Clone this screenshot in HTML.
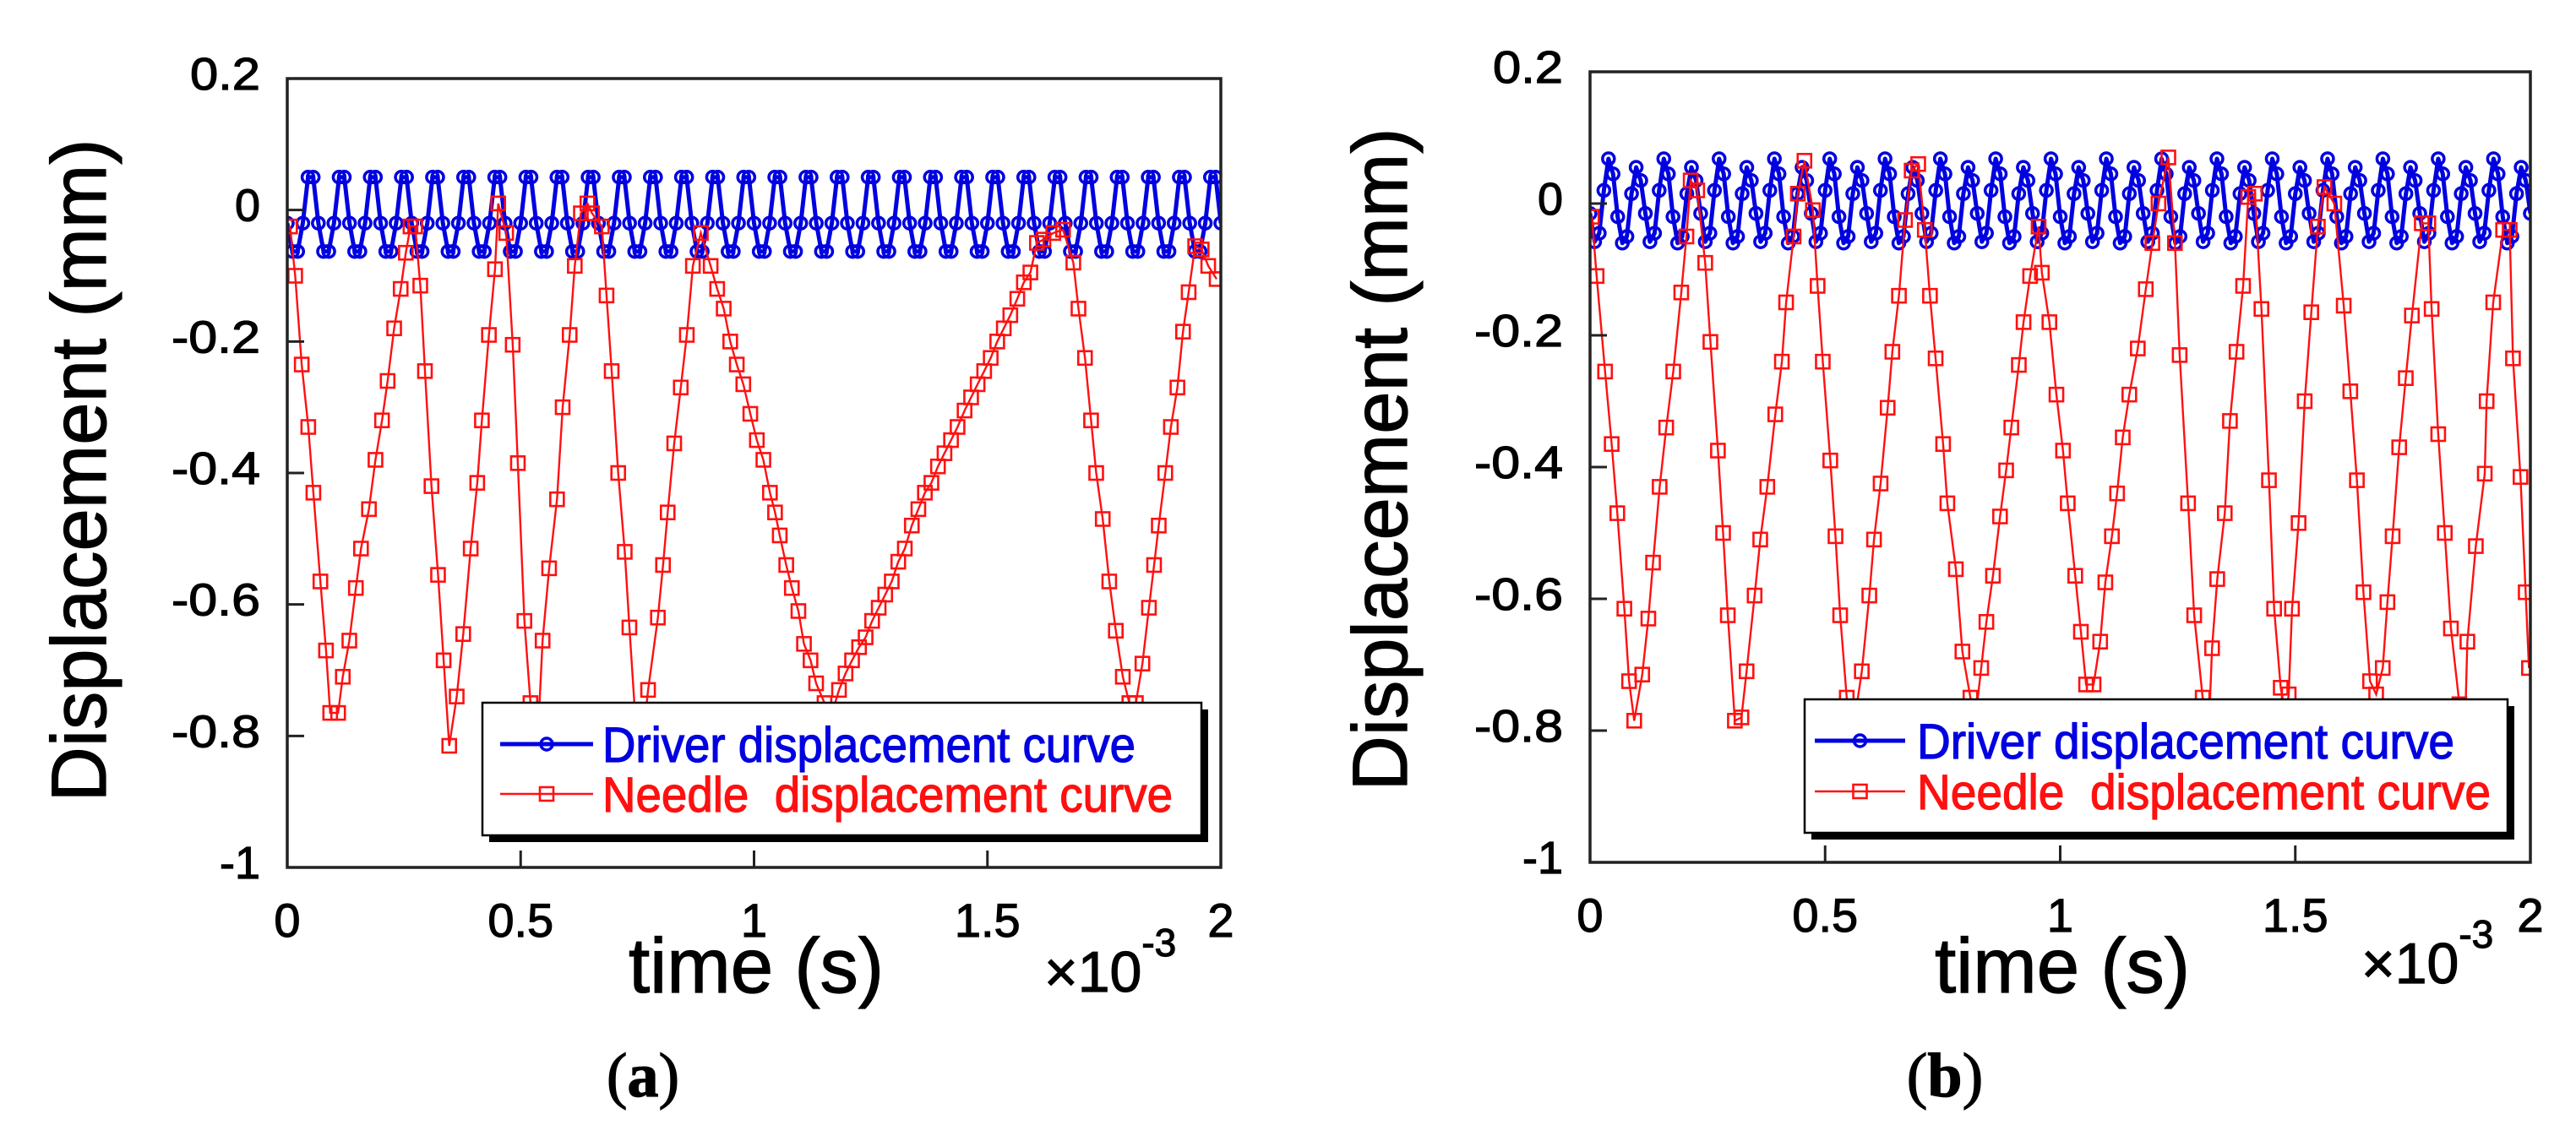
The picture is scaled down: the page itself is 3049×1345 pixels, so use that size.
<!DOCTYPE html>
<html><head><meta charset="utf-8"><style>
html,body{margin:0;padding:0;background:#fff;}
svg{display:block;font-family:"Liberation Sans",Arial,sans-serif;}
svg text{stroke:currentColor;stroke-width:1.2px;}
</style></head><body>
<svg id="fig" width="3049" height="1345" viewBox="0 0 3049 1345" xmlns="http://www.w3.org/2000/svg">
<defs>
<clipPath id="clipA"><rect x="340" y="93" width="1105" height="934"/></clipPath>
<clipPath id="clipB"><rect x="1882" y="85" width="1113" height="936"/></clipPath>
</defs>
</svg>
<script>
// ---- data (time in ms ×10^-3 s, displacement in mm) ----
const xTicks = [0, 0.5, 1, 1.5, 2];
const xTickLabels = ["0", "0.5", "1", "1.5", "2"];
const yTicks = [0.2, 0, -0.2, -0.4, -0.6, -0.8, -1];
const yTickLabels = ["0.2", "0", "-0.2", "-0.4", "-0.6", "-0.8", "-1"];

const driverA_t0 = 0, driverA_dt = 2/180;
const driverA_v = [
-0.02,-0.063,-0.063,-0.02,0.05,0.05, -0.02,-0.063,-0.063,-0.02,0.05,0.05, -0.02,-0.063,-0.063,-0.02,0.05,0.05,
-0.02,-0.063,-0.063,-0.02,0.05,0.05, -0.02,-0.063,-0.063,-0.02,0.05,0.05, -0.02,-0.063,-0.063,-0.02,0.05,0.05,
-0.02,-0.063,-0.063,-0.02,0.05,0.05, -0.02,-0.063,-0.063,-0.02,0.05,0.05, -0.02,-0.063,-0.063,-0.02,0.05,0.05,
-0.02,-0.063,-0.063,-0.02,0.05,0.05, -0.02,-0.063,-0.063,-0.02,0.05,0.05, -0.02,-0.063,-0.063,-0.02,0.05,0.05,
-0.02,-0.063,-0.063,-0.02,0.05,0.05, -0.02,-0.063,-0.063,-0.02,0.05,0.05, -0.02,-0.063,-0.063,-0.02,0.05,0.05,
-0.02,-0.063,-0.063,-0.02,0.05,0.05, -0.02,-0.063,-0.063,-0.02,0.05,0.05, -0.02,-0.063,-0.063,-0.02,0.05,0.05,
-0.02,-0.063,-0.063,-0.02,0.05,0.05, -0.02,-0.063,-0.063,-0.02,0.05,0.05, -0.02,-0.063,-0.063,-0.02,0.05,0.05,
-0.02,-0.063,-0.063,-0.02,0.05,0.05, -0.02,-0.063,-0.063,-0.02,0.05,0.05, -0.02,-0.063,-0.063,-0.02,0.05,0.05,
-0.02,-0.063,-0.063,-0.02,0.05,0.05, -0.02,-0.063,-0.063,-0.02,0.05,0.05, -0.02,-0.063,-0.063,-0.02,0.05,0.05,
-0.02,-0.063,-0.063,-0.02,0.05,0.05, -0.02,-0.063,-0.063,-0.02,0.05,0.05, -0.02,-0.063,-0.063,-0.02,0.05,0.05,
-0.02];

const needleA_t = [0.006,0.017,0.031,0.045,0.056,0.071,0.083,0.092,0.109,0.119,0.133,0.147,0.158,0.175,0.189,0.203,0.215,0.229,0.243,0.254,0.264,0.274,0.285,0.295,0.309,0.323,0.335,0.347,0.363,0.377,0.393,0.407,0.417,0.432,0.445,0.452,0.469,0.483,0.494,0.508,0.521,0.535,0.547,0.561,0.578,0.590,0.605,0.616,0.629,0.643,0.653,0.674,0.684,0.695,0.709,0.723,0.733,0.745,0.758,0.773,0.794,0.805,0.815,0.829,0.843,0.856,0.869,0.886,0.907,0.921,0.935,0.949,0.963,0.977,0.992,1.006,1.020,1.034,1.045,1.055,1.069,1.081,1.095,1.107,1.121,1.133,1.151,1.165,1.182,1.196,1.210,1.225,1.239,1.253,1.267,1.281,1.295,1.309,1.323,1.338,1.352,1.366,1.380,1.394,1.408,1.422,1.436,1.451,1.465,1.479,1.493,1.507,1.521,1.535,1.549,1.564,1.578,1.592,1.606,1.620,1.641,1.662,1.684,1.695,1.709,1.722,1.733,1.747,1.761,1.775,1.790,1.804,1.818,1.832,1.846,1.857,1.867,1.881,1.893,1.907,1.919,1.931,1.945,1.959,1.973,1.991];
const needleA_v = [-0.025,-0.10,-0.235,-0.33,-0.43,-0.565,-0.67,-0.765,-0.765,-0.71,-0.655,-0.575,-0.515,-0.455,-0.38,-0.32,-0.26,-0.18,-0.12,-0.065,-0.025,-0.025,-0.115,-0.245,-0.42,-0.555,-0.685,-0.815,-0.74,-0.645,-0.515,-0.415,-0.32,-0.19,-0.09,0.01,-0.035,-0.205,-0.385,-0.625,-0.75,-0.83,-0.655,-0.545,-0.44,-0.30,-0.19,-0.085,-0.005,0.01,-0.005,-0.025,-0.13,-0.245,-0.40,-0.52,-0.635,-0.765,-0.83,-0.73,-0.62,-0.54,-0.46,-0.355,-0.27,-0.19,-0.085,-0.035,-0.085,-0.12,-0.15,-0.20,-0.235,-0.265,-0.31,-0.35,-0.38,-0.43,-0.46,-0.495,-0.54,-0.575,-0.61,-0.66,-0.685,-0.72,-0.75,-0.77,-0.73,-0.705,-0.685,-0.665,-0.65,-0.625,-0.605,-0.585,-0.565,-0.535,-0.515,-0.48,-0.455,-0.43,-0.415,-0.39,-0.37,-0.35,-0.33,-0.305,-0.285,-0.265,-0.245,-0.225,-0.20,-0.18,-0.16,-0.135,-0.11,-0.095,-0.05,-0.045,-0.035,-0.03,-0.08,-0.15,-0.225,-0.32,-0.40,-0.47,-0.565,-0.64,-0.71,-0.75,-0.75,-0.69,-0.605,-0.54,-0.48,-0.40,-0.33,-0.27,-0.185,-0.125,-0.055,-0.06,-0.085,-0.105];

const driverB_t0 = 0, driverB_dt = 2/204;
const driverB_v = [
-0.015,-0.058,-0.045,0.02,0.068,0.045, -0.02,-0.06,-0.05,0.015,0.055,0.035,
-0.015,-0.058,-0.045,0.02,0.068,0.045, -0.02,-0.06,-0.05,0.015,0.055,0.035,
-0.015,-0.058,-0.045,0.02,0.068,0.045, -0.02,-0.06,-0.05,0.015,0.055,0.035,
-0.015,-0.058,-0.045,0.02,0.068,0.045, -0.02,-0.06,-0.05,0.015,0.055,0.035,
-0.015,-0.058,-0.045,0.02,0.068,0.045, -0.02,-0.06,-0.05,0.015,0.055,0.035,
-0.015,-0.058,-0.045,0.02,0.068,0.045, -0.02,-0.06,-0.05,0.015,0.055,0.035,
-0.015,-0.058,-0.045,0.02,0.068,0.045, -0.02,-0.06,-0.05,0.015,0.055,0.035,
-0.015,-0.058,-0.045,0.02,0.068,0.045, -0.02,-0.06,-0.05,0.015,0.055,0.035,
-0.015,-0.058,-0.045,0.02,0.068,0.045, -0.02,-0.06,-0.05,0.015,0.055,0.035,
-0.015,-0.058,-0.045,0.02,0.068,0.045, -0.02,-0.06,-0.05,0.015,0.055,0.035,
-0.015,-0.058,-0.045,0.02,0.068,0.045, -0.02,-0.06,-0.05,0.015,0.055,0.035,
-0.015,-0.058,-0.045,0.02,0.068,0.045, -0.02,-0.06,-0.05,0.015,0.055,0.035,
-0.015,-0.058,-0.045,0.02,0.068,0.045, -0.02,-0.06,-0.05,0.015,0.055,0.035,
-0.015,-0.058,-0.045,0.02,0.068,0.045, -0.02,-0.06,-0.05,0.015,0.055,0.035,
-0.015,-0.058,-0.045,0.02,0.068,0.045, -0.02,-0.06,-0.05,0.015,0.055,0.035,
-0.015,-0.058,-0.045,0.02,0.068,0.045, -0.02,-0.06,-0.05,0.015,0.055,0.035,
-0.015,-0.058,-0.045,0.02,0.068,0.045, -0.02,-0.06,-0.05,0.015,0.055,0.035,
-0.015];

const needleB_t = [0.004,0.014,0.032,0.046,0.058,0.073,0.083,0.094,0.111,0.124,0.134,0.148,0.162,0.177,0.194,0.205,0.214,0.228,0.245,0.256,0.272,0.283,0.293,0.308,0.322,0.333,0.350,0.362,0.377,0.394,0.408,0.417,0.433,0.442,0.456,0.474,0.484,0.495,0.511,0.522,0.532,0.546,0.555,0.578,0.594,0.604,0.618,0.633,0.643,0.657,0.670,0.684,0.698,0.712,0.723,0.735,0.751,0.760,0.778,0.792,0.809,0.820,0.832,0.843,0.857,0.872,0.885,0.896,0.912,0.922,0.936,0.954,0.961,0.977,0.992,1.006,1.016,1.032,1.044,1.055,1.071,1.085,1.096,1.110,1.121,1.133,1.147,1.165,1.182,1.196,1.209,1.230,1.244,1.254,1.272,1.285,1.303,1.315,1.323,1.334,1.350,1.361,1.375,1.389,1.400,1.414,1.428,1.444,1.455,1.469,1.480,1.486,1.493,1.507,1.520,1.534,1.548,1.562,1.583,1.603,1.617,1.631,1.645,1.659,1.672,1.686,1.696,1.707,1.721,1.735,1.748,1.769,1.783,1.790,1.804,1.818,1.831,1.849,1.860,1.866,1.884,1.903,1.907,1.921,1.942,1.956,1.963,1.979,1.990,1.997];
const needleB_v = [-0.02,-0.11,-0.255,-0.365,-0.47,-0.615,-0.725,-0.785,-0.715,-0.63,-0.545,-0.43,-0.34,-0.255,-0.135,-0.05,0.035,0.02,-0.09,-0.21,-0.375,-0.50,-0.625,-0.785,-0.78,-0.71,-0.595,-0.51,-0.43,-0.32,-0.24,-0.15,-0.05,0.015,0.065,-0.01,-0.125,-0.24,-0.39,-0.505,-0.625,-0.75,-0.82,-0.71,-0.595,-0.51,-0.425,-0.31,-0.225,-0.14,-0.025,0.05,0.06,-0.04,-0.14,-0.235,-0.365,-0.455,-0.555,-0.68,-0.75,-0.78,-0.705,-0.635,-0.565,-0.475,-0.405,-0.34,-0.245,-0.18,-0.11,-0.035,-0.105,-0.18,-0.29,-0.375,-0.455,-0.565,-0.65,-0.73,-0.73,-0.665,-0.575,-0.505,-0.44,-0.355,-0.29,-0.22,-0.13,-0.06,0,0.07,-0.06,-0.23,-0.455,-0.625,-0.75,-0.82,-0.675,-0.57,-0.47,-0.33,-0.225,-0.125,0.01,0.015,-0.16,-0.42,-0.615,-0.735,-0.78,-0.745,-0.615,-0.485,-0.30,-0.165,-0.035,0.025,0,-0.155,-0.285,-0.42,-0.59,-0.725,-0.745,-0.705,-0.605,-0.505,-0.37,-0.265,-0.17,-0.03,-0.03,-0.16,-0.35,-0.50,-0.645,-0.76,-0.82,-0.665,-0.52,-0.41,-0.30,-0.15,-0.04,-0.04,-0.235,-0.415,-0.59,-0.705];

const NS = "http://www.w3.org/2000/svg";
const svg = document.getElementById("fig");
function mk(tag, attrs, parent) {
  const e = document.createElementNS(NS, tag);
  for (const k in attrs) e.setAttribute(k, attrs[k]);
  (parent || svg).appendChild(e);
  return e;
}
const yTickLabelWidths = {"0.2":83,"0":30,"-0.2":105,"-0.4":105,"-0.6":105,"-0.8":105,"-1":48};
const BLUE = "#0000e0", RED = "#ff1010";

function drawPlot(P) {
  const g = mk("g", {});
  
  
  const sx = t => P.x0 + (t - 0) / (2 - 0) * (P.x1 - P.x0);
  const sy = v => P.y0 + (0.2 - v) / (0.2 - (-1)) * (P.y1 - P.y0);

  const dg = mk("g", {"clip-path": "url(#" + P.clip + ")"}, g);
  
  
  const dpts = P.dv.map((v, i) => sx(P.dt0 + i * P.ddt).toFixed(1) + "," + sy(v).toFixed(1)).join(" ");
  const dl = mk("polyline", {points: dpts, fill: "none", stroke: BLUE, "stroke-width": 5, "stroke-linejoin": "round"}, dg);
  
  
  P.dv.forEach((v, i) => {
    const c = mk("circle", {cx: sx(P.dt0 + i * P.ddt), cy: sy(v), r: 7, fill: "none", stroke: BLUE, "stroke-width": 3.5}, dg);
    
    
  });

  const ng = mk("g", {"clip-path": "url(#" + P.clip + ")"}, g);
  
  
  const n = Math.min(P.nt.length, P.nv.length);
  const npts = [];
  for (let i = 0; i < n; i++) npts.push(sx(P.nt[i]).toFixed(1) + "," + sy(P.nv[i]).toFixed(1));
  const nl = mk("polyline", {points: npts.join(" "), fill: "none", stroke: RED, "stroke-width": 2.4}, ng);
  
  
  for (let i = 0; i < n; i++) {
    const r = mk("rect", {x: sx(P.nt[i]) - 8, y: sy(P.nv[i]) - 8, width: 16, height: 16, fill: "none", stroke: RED, "stroke-width": 2.6}, ng);
    
    
  }

  const box = mk("rect", {x: P.x0, y: P.y0, width: P.x1 - P.x0, height: P.y1 - P.y0, fill: "none", stroke: "#222", "stroke-width": 3.5}, g);
  
  

  yTicks.forEach((v, i) => {
    const y = sy(v);
    const tk = mk("line", {x1: P.x0, x2: P.x0 + 20, y1: y, y2: y, stroke: "#222", "stroke-width": 3}, g);
    
    
    const lab = yTickLabels[i];
    const t = mk("text", {x: P.x0 - 32, y: y + 13, "font-size": 54, "text-anchor": "end", textLength: yTickLabelWidths[lab], lengthAdjust: "spacingAndGlyphs", fill: "#000", color: "#000"}, g);
    t.textContent = lab;
    
    
  });
  xTicks.forEach((v, i) => {
    const x = sx(v);
    const tk = mk("line", {x1: x, x2: x, y1: P.y1, y2: P.y1 - 20, stroke: "#222", "stroke-width": 3}, g);
    
    
    const t = mk("text", {x: x, y: P.y1 + 82, "font-size": 56, "text-anchor": "middle", fill: "#000", color: "#000"}, g);
    t.textContent = xTickLabels[i];
    
    
  });

  const yt = mk("text", {x: 0, y: 0, "font-size": 92, "text-anchor": "middle", textLength: 785, lengthAdjust: "spacingAndGlyphs", transform: "translate(" + P.ytx + "," + P.yty + ") rotate(-90)", fill: "#000", color: "#000"}, g);
  yt.textContent = "Displacement (mm)";
  
  
  const xt = mk("text", {x: P.xtx, y: 1175, "font-size": 92, "text-anchor": "middle", textLength: 302, lengthAdjust: "spacingAndGlyphs", fill: "#000", color: "#000"}, g);
  xt.textContent = "time (s)";
  
  
  const ex = mk("text", {x: P.exx, y: P.exy, "font-size": 68, fill: "#000", color: "#000"}, g);
  
  
  const ts1 = mk("tspan", {}, ex); ts1.textContent = "×10";
  const ts2 = mk("tspan", {dy: -42, "font-size": 46}, ex); ts2.textContent = "-3";
  const pl = mk("text", {x: P.plx, y: 1298, "font-size": 74, "text-anchor": "middle", "font-family": "'Liberation Serif', serif", fill: "#000", color: "#000"}, g);
  
  
  const p1 = mk("tspan", {}, pl); p1.textContent = "(";
  const p2 = mk("tspan", {"font-weight": "bold"}, pl); p2.textContent = P.letter;
  const p3 = mk("tspan", {}, pl); p3.textContent = ")";

  const L = P.leg;
  const lg = mk("g", {}, g);
  
  
  const sh = mk("rect", {x: L.x + 8, y: L.y + 8, width: L.w, height: L.h, fill: "#000"}, lg);
  
  
  const lb = mk("rect", {x: L.x, y: L.y, width: L.w, height: L.h, fill: "#fff", stroke: "#000", "stroke-width": 2.5}, lg);
  
  
  const e1 = mk("g", {}, lg);
  
  
  mk("line", {x1: L.lx0, x2: L.lx1, y1: L.r1, y2: L.r1, stroke: BLUE, "stroke-width": 5}, e1);
  mk("circle", {cx: (L.lx0 + L.lx1) / 2, cy: L.r1, r: 7, fill: "none", stroke: BLUE, "stroke-width": 3.5}, e1);
  const t1 = mk("text", {x: L.tx, y: L.r1 + 21, "font-size": 58, fill: BLUE, color: BLUE, textLength: L.w1, lengthAdjust: "spacingAndGlyphs"}, e1);
  t1.textContent = "Driver displacement curve";
  const e2 = mk("g", {}, lg);
  
  
  mk("line", {x1: L.lx0, x2: L.lx1, y1: L.r2, y2: L.r2, stroke: RED, "stroke-width": 2.4}, e2);
  mk("rect", {x: (L.lx0 + L.lx1) / 2 - 8, y: L.r2 - 8, width: 16, height: 16, fill: "none", stroke: RED, "stroke-width": 2.6}, e2);
  const t2 = mk("text", {x: L.tx, y: L.r2 + 21, "font-size": 58, fill: RED, color: RED, textLength: L.w2, lengthAdjust: "spacingAndGlyphs"}, e2);
  t2.setAttribute("style", "white-space:pre");
  t2.textContent = "Needle  displacement curve";
}

drawPlot({name: "panel-a", clip: "clipA", x0: 340, x1: 1445, y0: 93, y1: 1027,
  dv: driverA_v, dt0: driverA_t0, ddt: driverA_dt, nt: needleA_t, nv: needleA_v,
  ytx: 125, yty: 557, xtx: 895, exx: 1236, exy: 1174, plx: 761, letter: "a",
  leg: {x: 571, y: 832, w: 851, h: 157, lx0: 592, lx1: 702, tx: 713, r1: 881, r2: 940, w1: 631, w2: 675}});
drawPlot({name: "panel-b", clip: "clipB", x0: 1882, x1: 2995, y0: 85, y1: 1021,
  dv: driverB_v, dt0: driverB_t0, ddt: driverB_dt, nt: needleB_t, nv: needleB_v,
  ytx: 1665, yty: 544, xtx: 2441, exx: 2795, exy: 1164, plx: 2302, letter: "b",
  leg: {x: 2136, y: 828, w: 832, h: 158, lx0: 2148, lx1: 2255, tx: 2269, r1: 877, r2: 937, w1: 636, w2: 679}});
</script>
</body></html>
